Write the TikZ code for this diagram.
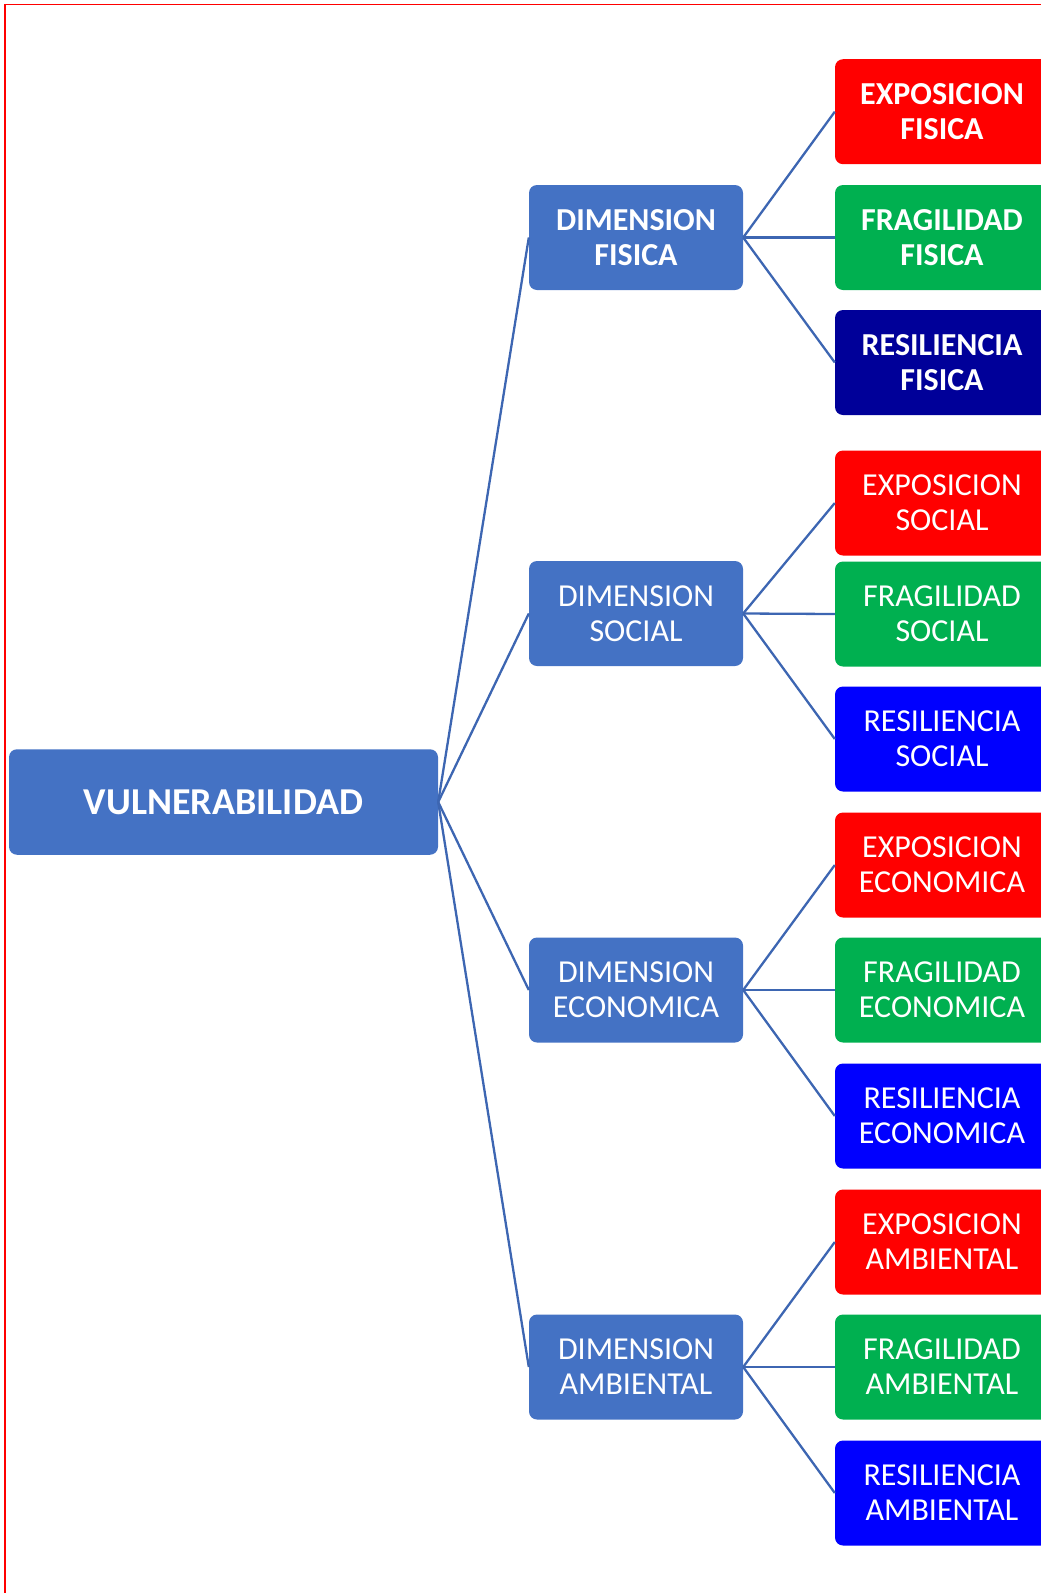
\documentclass[tikz,border=0pt]{standalone}
\usepackage{fontspec}
\setmainfont{Carlito}
\definecolor{dimblue}{HTML}{4472C4}
\definecolor{linkblue}{HTML}{3D66B2}
\definecolor{expred}{HTML}{FF0000}
\definecolor{fraggreen}{HTML}{00B050}
\definecolor{resnavy}{HTML}{000099}
\definecolor{resblue}{HTML}{0000FF}
\definecolor{framered}{HTML}{FF0000}
\begin{document}
\begin{tikzpicture}[x=1pt,y=-1pt,
  boxbase/.style={rounded corners=8pt, text=white, align=center, inner sep=0pt,
    font=\fontsize{32}{35}\selectfont},
  dimbox/.style={boxbase, fill=dimblue, minimum width=214pt, minimum height=105pt},
  leafbox/.style={boxbase, minimum width=214pt, minimum height=105pt},
  rootbox/.style={boxbase, fill=dimblue, minimum width=429pt, minimum height=105.5pt},
  link/.style={draw=linkblue, line width=2.3pt},
  strong/.style={font=\fontsize{32}{35}\selectfont\bfseries},
  rootfont/.style={font=\fontsize{38}{42}\selectfont\bfseries}
]
\useasboundingbox (0,0) rectangle (1041,1593);
\clip (0,0) rectangle (1041,1593);
\draw[framered, line width=1.8pt] (5,1600) -- (5,4.5) -- (1050,4.5);

\node[rootbox, rootfont] (root) at (223.5,802) {VULNERABILIDAD};

\node[dimbox, strong] (dfis) at (636,237.5) {DIMENSION\\FISICA};
\node[dimbox] (dsoc) at (636,613.5) {DIMENSION\\SOCIAL};
\node[dimbox] (deco) at (636,990) {DIMENSION\\ECONOMICA};
\node[dimbox] (damb) at (636,1367) {DIMENSION\\AMBIENTAL};

\node[leafbox, strong, fill=expred] (efis) at (942,111.7) {EXPOSICION\\FISICA};
\node[leafbox, strong, fill=fraggreen] (ffis) at (942,237.5) {FRAGILIDAD\\FISICA};
\node[leafbox, strong, fill=resnavy] (rfis) at (942,362.5) {RESILIENCIA\\FISICA};

\node[leafbox, fill=expred] (esoc) at (942,503) {EXPOSICION\\SOCIAL};
\node[leafbox, fill=fraggreen] (fsoc) at (942,614) {FRAGILIDAD\\SOCIAL};
\node[leafbox, fill=resblue] (rsoc) at (942,739) {RESILIENCIA\\SOCIAL};

\node[leafbox, fill=expred] (eeco) at (942,865) {EXPOSICION\\ECONOMICA};
\node[leafbox, fill=fraggreen] (feco) at (942,990) {FRAGILIDAD\\ECONOMICA};
\node[leafbox, fill=resblue] (reco) at (942,1116) {RESILIENCIA\\ECONOMICA};

\node[leafbox, fill=expred] (eamb) at (942,1242) {EXPOSICION\\AMBIENTAL};
\node[leafbox, fill=fraggreen] (famb) at (942,1367) {FRAGILIDAD\\AMBIENTAL};
\node[leafbox, fill=resblue] (ramb) at (942,1493) {RESILIENCIA\\AMBIENTAL};

\foreach \d in {dfis,dsoc,deco,damb}{
  \draw[link] (root.east) -- (\d.west);
}
\foreach \d/\a/\b/\c in {dfis/efis/ffis/rfis, dsoc/esoc/fsoc/rsoc, deco/eeco/feco/reco, damb/eamb/famb/ramb}{
  \draw[link] (\d.east) -- (\a.west);
  \draw[link] (\d.east) -- (\b.west);
  \draw[link] (\d.east) -- (\c.west);
}
\end{tikzpicture}
\end{document}
